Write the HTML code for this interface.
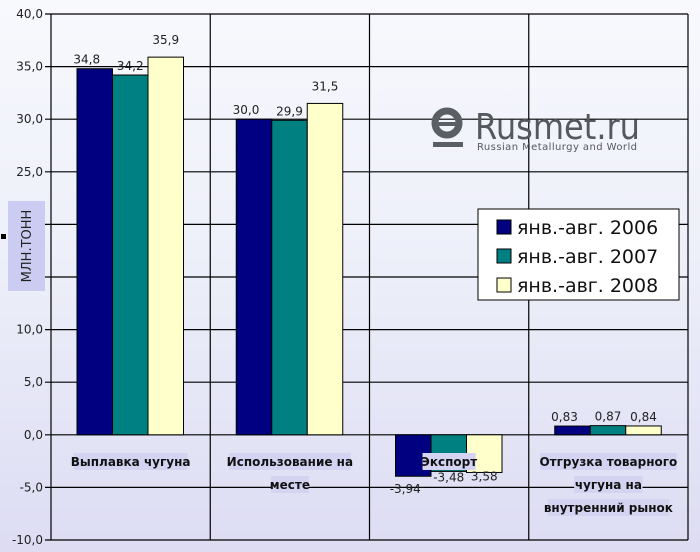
<!DOCTYPE html>
<html><head><meta charset="utf-8">
<style>
html,body{margin:0;padding:0;width:700px;height:552px;overflow:hidden}
body{background:linear-gradient(180deg,#f8f9fc 0%,#eceef8 50%,#dcdcf4 100%);font-family:"Liberation Sans","DejaVu Sans",sans-serif}
svg{position:absolute;left:0;top:0}
</style></head>
<body>
<svg id="chart" width="700" height="552">
<defs>
<linearGradient id="bg" x1="0" y1="0" x2="0" y2="1">
<stop offset="0" stop-color="#f8f9fd"/><stop offset="0.5" stop-color="#eceef9"/><stop offset="1" stop-color="#dddcf3"/>
</linearGradient>
</defs>
<rect x="0" y="0" width="700" height="552" fill="url(#bg)"/>
<g id="grid"></g>
<g id="bars"></g>
<g id="labels"></g>
<g>
<circle cx="447" cy="123" r="12" fill="none" stroke="#5a5f63" stroke-width="7"/>
<rect x="434" y="122" width="26" height="4" fill="#5a5f63"/>
<rect x="433" y="142" width="30" height="5" fill="#5a5f63"/>
<text x="475" y="139" font-size="36" fill="#55595d" font-family="DejaVu Sans, sans-serif" textLength="165" lengthAdjust="spacingAndGlyphs">Rusmet.ru</text>
<text x="477" y="150" font-size="10" fill="#55595d" font-family="DejaVu Sans, sans-serif" textLength="160">Russian Metallurgy and World</text>
</g>
<g>
<rect x="8" y="201" width="37" height="90" fill="#ccccf2"/>
<text transform="translate(31,246) rotate(-90)" text-anchor="middle" font-size="13" fill="#222" font-family="DejaVu Sans, sans-serif">МЛН.ТОНН</text>
<rect x="1" y="234" width="5" height="5" fill="#000"/>
</g>
<g>
<rect x="478" y="209" width="201" height="91" fill="#fff" stroke="#000"/>
<g id="legend"></g>
</g>
</svg>
<script>
const categories=["Выплавка чугуна","Использование на месте","Экспорт","Отгрузка товарного чугуна на внутренний рынок"];
const catLines=[["Выплавка чугуна"],["Использование на","месте"],["Экспорт"],["Отгрузка товарного","чугуна на","внутренний рынок"]];
const series2006=[34.8,30.0,-3.94,0.83];
const series2007=[34.2,29.9,-3.48,0.87];
const series2008=[35.9,31.5,-3.58,0.84];
const valueLabels2006=["34,8","30,0","-3,94","0,83"];
const valueLabels2007=["34,2","29,9","-3,48","0,87"];
const valueLabels2008=["35,9","31,5","3,58","0,84"];
const seriesNames=["янв.-авг. 2006","янв.-авг. 2007","янв.-авг. 2008"];
const yTicks=[40,35,30,25,20,15,10,5,0,-5,-10];
const yTickLabels=["40,0","35,0","30,0","25,0","20,0","15,0","10,0","5,0","0,0","-5,0","-10,0"];

const NS="http://www.w3.org/2000/svg";
const L=51,R=688,T=14,B=540,ymin=-10,ymax=40;
const y=v=>T+(ymax-v)/(ymax-ymin)*(B-T);
const cw=(R-L)/categories.length;
const xc=i=>L+i*cw;
function mk(tag,attrs,parent){const e=document.createElementNS(NS,tag);for(const k in attrs)e.setAttribute(k,attrs[k]);parent.appendChild(e);return e;}
const grid=document.getElementById('grid'),bars=document.getElementById('bars'),labels=document.getElementById('labels'),legend=document.getElementById('legend');
yTicks.forEach((t,i)=>{
  const ln=mk('line',{x1:L-6,x2:R,y1:y(t),y2:y(t),stroke:'#000','stroke-width':1.2},grid);
  
  
  const tx=mk('text',{x:L-8,y:y(t)+4,'text-anchor':'end','font-size':12,fill:'#222','font-family':'DejaVu Sans, sans-serif'},grid);
  tx.textContent=yTickLabels[i];
  
  
});
for(let i=0;i<=categories.length;i++){
  const ln=mk('line',{x1:xc(i),x2:xc(i),y1:T,y2:B,stroke:'#000','stroke-width':1.2},grid);
  
  
}
const all=[series2006,series2007,series2008];
const vlabs=[valueLabels2006,valueLabels2007,valueLabels2008];
const colors=['#000080','#008080','#ffffcc'];
const bw=35.5,off=26;
categories.forEach((c,i)=>{
  all.forEach((s,j)=>{
    const v=s[i];const x=xc(i)+off+j*bw;
    const top=Math.min(y(v),y(0)),h=Math.abs(y(v)-y(0));
    const r=mk('rect',{x:x,y:top,width:bw,height:h,fill:colors[j],stroke:'#000','stroke-width':1},bars);
    
    
    let ly=v>=0?y(v)-5:y(v)+17;
    if(v<0&&j>0)ly=y(v)+12-j*2;
    if(v>=0&&j==2&&i<2)ly=y(v)-13;
    const tx=mk('text',{x:x+bw/2-(j==0?8:0),y:ly,'text-anchor':'middle','font-size':12,fill:'#222','font-family':'DejaVu Sans, sans-serif'},labels);
    tx.textContent=vlabs[j][i];
    
    
  });
  catLines[i].forEach((line,k)=>{
    const cx=xc(i)+cw/2,cy=465+k*23;
    const w=line.length*7.6;
    const bg=mk('rect',{x:cx-w/2,y:cy-12,width:w,height:17,fill:'#d4d4f2'},labels);
    
    
    const tx=mk('text',{x:cx,y:cy+1,'text-anchor':'middle','font-size':12,'font-weight':'bold',fill:'#111','font-family':'DejaVu Sans, sans-serif'},labels);
    tx.textContent=line;
    
    
  });
});
seriesNames.forEach((n,j)=>{
  const ry=220+j*29;
  const r=mk('rect',{x:497,y:ry,width:14,height:14,fill:colors[j],stroke:'#000'},legend);
  
  
  const tx=mk('text',{x:517,y:ry+14,'font-size':19,fill:'#111','font-family':'DejaVu Sans, sans-serif'},legend);
  tx.textContent=n;
  
  
});
</script>
</body></html>
